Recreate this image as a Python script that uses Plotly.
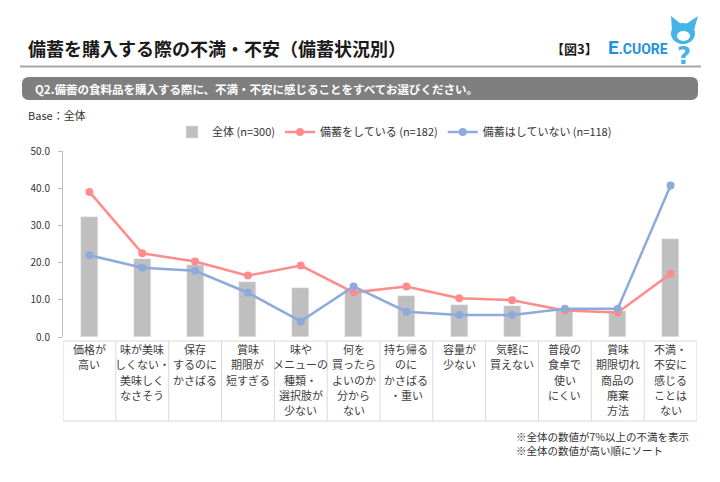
import plotly.graph_objects as go

# ---------------- data ----------------
categories = [
    ["価格が", "高い"],
    ["味が美味", "しくない・", "美味しく", "なさそう"],
    ["保存", "するのに", "かさばる"],
    ["賞味", "期限が", "短すぎる"],
    ["味や", "メニューの", "種類・", "選択肢が", "少ない"],
    ["何を", "買ったら", "よいのか", "分から", "ない"],
    ["持ち帰る", "のに", "かさばる", "・重い"],
    ["容量が", "少ない"],
    ["気軽に", "買えない"],
    ["普段の", "食卓で", "使い", "にくい"],
    ["賞味", "期限切れ", "商品の", "廃棄", "方法"],
    ["不満・", "不安に", "感じる", "ことは", "ない"],
]
total = [32.3, 21.0, 19.3, 14.7, 13.3, 12.7, 11.0, 8.7, 8.3, 7.3, 7.0, 26.3]
stockers = [39.0, 22.5, 20.3, 16.5, 19.2, 12.0, 13.6, 10.4, 9.9, 7.1, 6.6, 17.0]
non_stockers = [22.0, 18.6, 17.8, 11.9, 4.2, 13.6, 6.8, 5.9, 5.9, 7.6, 7.6, 40.7]
series_names = ["全体 (n=300)", "備蓄をしている (n=182)", "備蓄はしていない (n=118)"]
y_ticks = [0, 10, 20, 30, 40, 50]

title = "備蓄を購入する際の不満・不安（備蓄状況別）"
question = "Q2.備蓄の食料品を購入する際に、不満・不安に感じることをすべてお選びください。"
base_text = "Base：全体"
notes = ["※全体の数値が7%以上の不満を表示", "※全体の数値が高い順にソート"]

# ---------------- layout geometry ----------------
W, H = 720, 482
L, R, T, B = 63, 23, 151, 145
PW, PH = W - L - R, H - T - B
FONT = "Noto Sans CJK JP"


def px(xp):
    return (xp - L) / PW


def py(yp):
    return (H - B - yp) / PH


def conv_path(p):
    toks = p.replace(",", " ").split()
    final, pair = [], []
    for t in toks:
        if t.isalpha():
            final.append(t)
        else:
            pair.append(float(t))
            if len(pair) == 2:
                final.append(f"{px(pair[0]):.5f},{py(pair[1]):.5f}")
                pair = []
    return " ".join(final)


xs = list(range(len(categories)))
RED = "#ff8c8c"
BLUE = "#8eaadc"
GRAY = "#bfbfbf"

fig = go.Figure()
fig.add_trace(go.Bar(x=xs, y=total, name=series_names[0], marker_color=GRAY,
                     width=0.32))
fig.add_trace(go.Scatter(x=xs, y=stockers, name=series_names[1], mode="lines+markers",
                         line=dict(color=RED, width=2.5),
                         marker=dict(color=RED, size=8)))
fig.add_trace(go.Scatter(x=xs, y=non_stockers, name=series_names[2], mode="lines+markers",
                         line=dict(color=BLUE, width=2.5),
                         marker=dict(color=BLUE, size=8)))

shapes = []
annotations = []

# header line
shapes.append(dict(type="line", xref="paper", yref="paper", x0=px(20), x1=px(701),
                   y0=py(66.5), y1=py(66.5), line=dict(color="#a6a6a6", width=2)))
# question box (rounded)
x0b, x1b, y0b, y1b, r = 22, 698, 77, 100, 7
path = (f"M {x0b + r},{y0b} L {x1b - r},{y0b} Q {x1b},{y0b} {x1b},{y0b + r} "
        f"L {x1b},{y1b - r} Q {x1b},{y1b} {x1b - r},{y1b} L {x0b + r},{y1b} "
        f"Q {x0b},{y1b} {x0b},{y1b - r} L {x0b},{y0b + r} Q {x0b},{y0b} {x0b + r},{y0b} Z")
shapes.append(dict(type="path", xref="paper", yref="paper", path=conv_path(path),
                   fillcolor="#7f7f7f", line=dict(width=0)))

# table borders
tab_top, tab_bot = 341, 421
for i in range(len(categories) + 1):
    shapes.append(dict(type="line", xref="x", yref="paper", x0=i - 0.5, x1=i - 0.5,
                       y0=py(tab_top), y1=py(tab_bot), line=dict(color="#d9d9d9", width=1)))
for yy in (tab_top, tab_bot):
    shapes.append(dict(type="line", xref="x", yref="paper", x0=-0.5, x1=len(categories) - 0.5,
                       y0=py(yy), y1=py(yy), line=dict(color="#d9d9d9", width=1)))

# table text
for i, lines in enumerate(categories):
    for k, ln in enumerate(lines):
        annotations.append(dict(x=i, xref="x", y=py(349 + 15.3 * k), yref="paper",
                                text=ln, showarrow=False, xanchor="center", yanchor="middle",
                                font=dict(family=FONT, size=11, color="#404040")))

# title
annotations.append(dict(x=px(26), y=py(48), xref="paper", yref="paper", text=f"<b>{title}</b>",
                        showarrow=False, xanchor="left", yanchor="middle",
                        font=dict(family=FONT, size=18, color="#1a1a1a")))
annotations.append(dict(x=px(33), y=py(88.5), xref="paper", yref="paper", text=f"<b>{question}</b>",
                        showarrow=False, xanchor="left", yanchor="middle",
                        font=dict(family=FONT, size=11.5, color="#ffffff")))
annotations.append(dict(x=px(26), y=py(115), xref="paper", yref="paper", text=base_text,
                        showarrow=False, xanchor="left", yanchor="middle",
                        font=dict(family=FONT, size=11, color="#333333")))
# figure label and logo
annotations.append(dict(x=px(600), y=py(48), xref="paper", yref="paper", text="<b>【図3】</b>",
                        showarrow=False, xanchor="right", yanchor="middle",
                        font=dict(family=FONT, size=13, color="#1a1a1a")))
annotations.append(dict(x=px(606), y=py(47), xref="paper", yref="paper",
                        text="<b><span style='font-size:19px'>E</span>.CUORE</b>",
                        showarrow=False, xanchor="left", yanchor="middle",
                        font=dict(family="Roboto", size=14, color="#1e92dc")))
# mascot (simple)
shapes.append(dict(type="circle", xref="paper", yref="paper", x0=px(671), x1=px(695),
                   y0=py(23), y1=py(44), fillcolor="#45b4e8", line=dict(width=0)))
shapes.append(dict(type="path", xref="paper", yref="paper",
                   path=conv_path("M 672,30 L 671,16 L 681,24 Z"), fillcolor="#45b4e8",
                   line=dict(width=0)))
shapes.append(dict(type="path", xref="paper", yref="paper",
                   path=conv_path("M 694,30 L 698,16 L 686,24 Z"), fillcolor="#45b4e8",
                   line=dict(width=0)))
shapes.append(dict(type="circle", xref="paper", yref="paper", x0=px(677), x1=px(690),
                   y0=py(31), y1=py(41), fillcolor="#ffffff", line=dict(width=0)))
annotations.append(dict(x=px(684), y=py(56), xref="paper", yref="paper", text="<b>?</b>",
                        showarrow=False, xanchor="center", yanchor="middle",
                        font=dict(family="DejaVu Sans", size=24, color="#45b4e8")))

# footnotes
annotations.append(dict(x=px(514), y=py(427), xref="paper", yref="paper",
                        text="<br>".join(notes), align="left",
                        showarrow=False, xanchor="left", yanchor="top",
                        font=dict(family=FONT, size=10.5, color="#333333")))

fig.update_layout(
    width=W, height=H,
    margin=dict(l=L, r=R, t=T, b=B, pad=0),
    paper_bgcolor="white", plot_bgcolor="white",
    font=dict(family=FONT, size=11, color="#333333"),
    showlegend=True,
    legend=dict(orientation="h", x=px(172), y=py(132), xanchor="left", yanchor="middle",
                font=dict(family=FONT, size=11, color="#333333"),
                bgcolor="rgba(0,0,0,0)", itemwidth=30, traceorder="normal"),
    xaxis=dict(range=[-0.5, len(categories) - 0.5], showticklabels=False, showgrid=False,
               zeroline=False, showline=False, ticks=""),
    yaxis=dict(range=[0, 50], tickvals=y_ticks, tickformat=".1f", showgrid=False, zeroline=False,
               showline=True, linecolor="#bfbfbf", linewidth=1, ticks="outside", ticklen=4,
               tickcolor="#bfbfbf", ticklabelstandoff=6,
               tickfont=dict(family=FONT, size=10, color="#333333")),
    shapes=shapes, annotations=annotations, bargap=0,
)

fig.write_html("out.html", config={"displayModeBar": False},
               post_script="document.body.style.margin='0';")
